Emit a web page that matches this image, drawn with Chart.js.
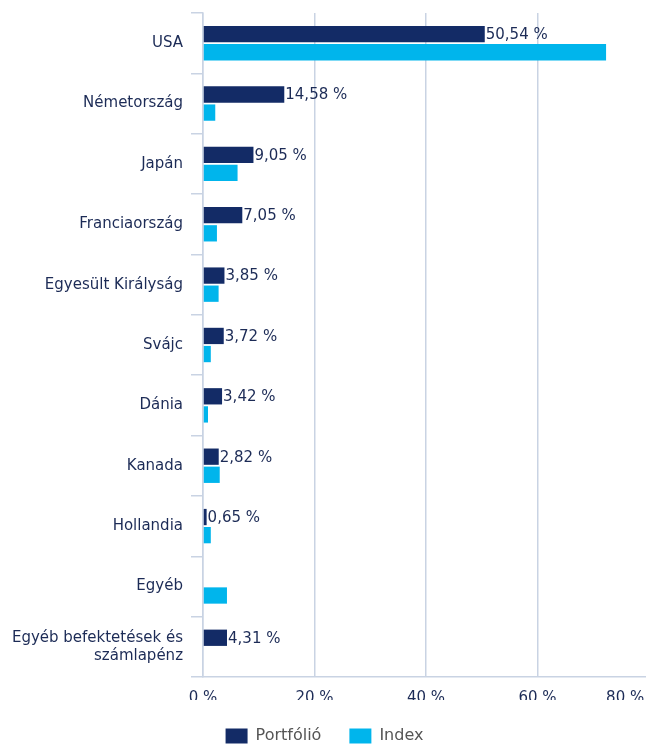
<!DOCTYPE html>
<html>
<head>
<meta charset="utf-8">
<script src="https://cdn.jsdelivr.net/npm/chart.js@4/dist/chart.umd.min.js"></script>
<style>
  html, body { margin: 0; padding: 0; background: #ffffff; }
  #clip { width: 646px; height: 748px; overflow: hidden; position: relative; }
  #wrap { width: 700px; height: 754px; position: absolute; left: 0; top: 0; }
</style>
</head>
<body>
<div id="clip"><div id="wrap"><canvas id="c"></canvas></div></div>
<script>
const categories = [
  'USA', 'Németország', 'Japán', 'Franciaország', 'Egyesült Királyság',
  'Svájc', 'Dánia', 'Kanada', 'Hollandia', 'Egyéb',
  ['Egyéb befektetések és', 'számlapénz']
];
const portfolioValues = [50.54, 14.58, 9.05, 7.05, 3.85, 3.72, 3.42, 2.82, 0.65, null, 4.31];
const indexValues = [72.3, 2.2, 6.2, 2.5, 2.8, 1.4, 0.9, 3.0, 1.4, 4.3, null];
const xTickValues = [0, 20, 40, 60, 80];
const seriesNames = ['Portfólió', 'Index'];

const NAVY = '#132b66';
const CYAN = '#00b5ec';
const TEXT = '#1c2b56';
const GRID = '#c9d3e3';
const FONT = 'DejaVu Sans, Verdana, sans-serif';
const FS = 15;

function fmt(v) { return v.toFixed(2).replace('.', ',') + ' %'; }

const valueLabels = {
  id: 'valueLabels',
  afterDatasetsDraw(chart) {
    const ctx = chart.ctx;
    const meta = chart.getDatasetMeta(0);
    ctx.save();
    ctx.font = FS + 'px ' + FONT;
    ctx.fillStyle = TEXT;
    ctx.textAlign = 'left';
    ctx.textBaseline = 'middle';
    meta.data.forEach((bar, i) => {
      const v = portfolioValues[i];
      if (v === null || v === undefined) return;
      ctx.fillText(fmt(v), bar.x + 1, bar.y + 1);
    });
    ctx.restore();
  }
};

new Chart(document.getElementById('c'), {
  type: 'bar',
  data: {
    labels: categories,
    datasets: [
      { label: seriesNames[0], data: portfolioValues, backgroundColor: NAVY, borderWidth: 0,
        categoryPercentage: 0.6, barPercentage: 0.9 },
      { label: seriesNames[1], data: indexValues, backgroundColor: CYAN, borderWidth: 0,
        categoryPercentage: 0.6, barPercentage: 0.9 }
    ]
  },
  options: {
    indexAxis: 'y',
    responsive: true,
    maintainAspectRatio: false,
    animation: false,
    layout: { padding: { top: 13, right: 51, left: 0, bottom: 0 } },
    scales: {
      x: {
        min: 0, max: 80,
        afterBuildTicks(scale) { scale.ticks = xTickValues.map(v => ({ value: v })); },
        afterFit(scale) { scale.height = 23; scale.paddingRight = 0; scale.paddingLeft = 0; },
        grid: { color: GRID, lineWidth: 1.5, drawTicks: false },
        border: { color: GRID, width: 1.5 },
        ticks: {
          color: TEXT, font: { family: FONT, size: FS }, padding: 12,
          callback: (v) => v === 80 ? '80 %          ' : v + ' %'
        }
      },
      y: {
        afterFit(scale) { scale.width = 203; scale.paddingTop = 0; scale.paddingBottom = 0; },
        grid: { drawOnChartArea: false, color: GRID, lineWidth: 1.5, tickLength: 12, offset: true },
        border: { color: GRID, width: 1.5 },
        ticks: { color: TEXT, font: { family: FONT, size: FS }, padding: 8 }
      }
    },
    plugins: {
      legend: {
        position: 'bottom',
        labels: {
          boxWidth: 22, boxHeight: 15, padding: 28,
          color: '#555555', font: { family: FONT, size: 16 }
        }
      },
      tooltip: { enabled: false }
    }
  },
  plugins: [valueLabels]
});
</script>
</body>
</html>
